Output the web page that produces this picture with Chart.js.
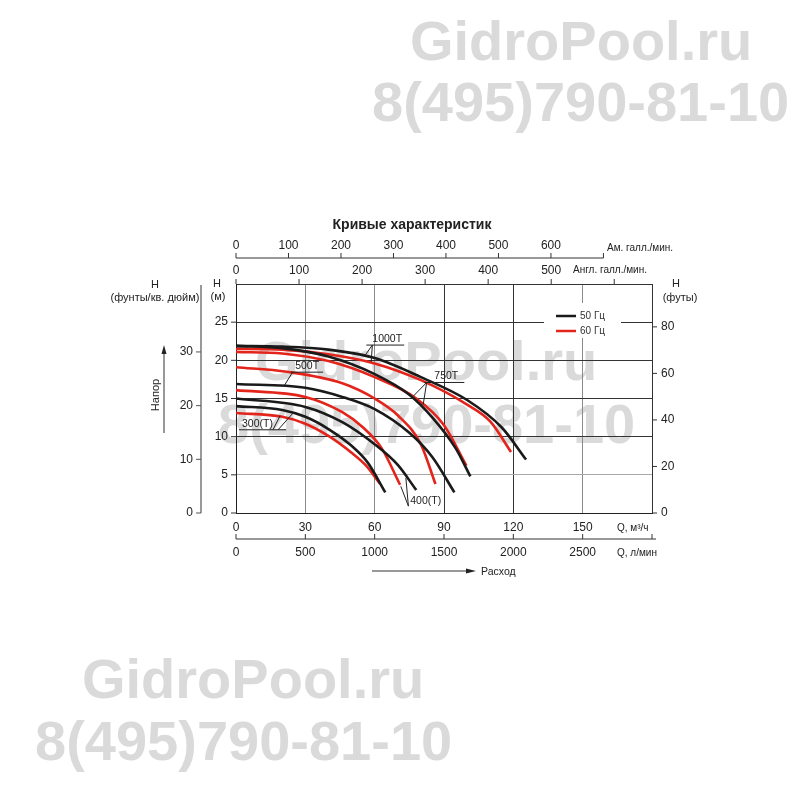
<!DOCTYPE html>
<html>
<head>
<meta charset="utf-8">
<script src="https://cdn.jsdelivr.net/npm/chart.js@4.4.1/dist/chart.umd.min.js"></script>
<style>
  body { margin: 0; background: #fff; }
  #wrap { position: relative; width: 800px; height: 800px; overflow: hidden; }
  .wm { position: absolute; font: bold 56px 'Liberation Sans', Arial, sans-serif; line-height: 56px; color: #dadada; white-space: nowrap; }
  canvas { position: absolute; left: 0; top: 0; }
</style>
</head>
<body>
<div id="wrap">
  <div class="wm" style="left:410px;top:13px">GidroPool.ru</div>
  <div class="wm" style="left:372px;top:74px">8(495)790-81-10</div>
  <div class="wm" style="left:255px;top:333px">GidroPool.ru</div>
  <div class="wm" style="left:218px;top:396px">8(495)790-81-10</div>
  <div class="wm" style="left:82px;top:651px">GidroPool.ru</div>
  <div class="wm" style="left:35px;top:713px">8(495)790-81-10</div>
  <canvas id="c" width="800" height="800"></canvas>
</div>
<script>
// axis ticks
const qTicks = [0, 30, 60, 90, 120, 150];            // m3/h (labelled)
const lpmTicks = [0, 500, 1000, 1500, 2000, 2500];    // l/min (labelled)
const usTicks = [0, 100, 200, 300, 400, 500, 600];    // US gpm (labelled)
const ukTicks = [0, 100, 200, 300, 400, 500];         // imp gpm (labelled)
const hmTicks = [0, 5, 10, 15, 20, 25];               // head, m
const ftTicks = [0, 20, 40, 60, 80];                  // head, ft
const psiTicks = [0, 10, 20, 30];                     // head, psi

// unit factors from m3/h and m
const M3H_LPM = 16.667, M3H_USGPM = 4.4029, M3H_UKGPM = 3.6662;
const M_FT = 3.2808, M_PSI = 1.4219;

// pump curves [Q m3/h, H m]; 50 Hz black, 60 Hz red
const p300_50  = [[0, 14.0], [20, 13.5], [30, 12.6], [40, 11.0], [50, 8.8], [57, 6.6], [64.6, 2.7]];
const p300_60  = [[0, 13.1], [20, 12.6], [30, 11.7], [40, 10.1], [50, 7.9], [56, 6.3], [62.4, 3.8]];
const p400_50  = [[0, 15.0], [30, 13.9], [46, 11.9], [60, 9.0], [70, 6.3], [78, 3.0]];
const p400_60  = [[0, 16.1], [30, 15.2], [46, 13.2], [55, 11.2], [63, 8.5], [71, 3.7]];
const p500_50  = [[0, 16.9], [30, 16.4], [46, 15.2], [60, 13.6], [75, 10.5], [85, 7.3], [94.5, 2.7]];
const p500_60  = [[0, 19.1], [22, 18.5], [46, 17.0], [60, 15.0], [70, 12.8], [80, 9.0], [86.3, 3.8]];
const p750_50  = [[0, 21.9], [20, 21.6], [40, 20.5], [60, 18.2], [75, 15.5], [85, 12.5], [95, 8.5], [101.4, 4.8]];
const p750_60  = [[0, 21.1], [20, 20.9], [40, 19.9], [60, 17.8], [78, 15.0], [90, 11.5], [99.7, 6.2]];
const p1000_50 = [[0, 21.9], [20, 21.8], [40, 21.4], [60, 20.3], [80, 17.8], [100, 14.8], [115, 11.2], [125.5, 7.0]];
const p1000_60 = [[0, 21.5], [20, 21.4], [40, 20.8], [60, 19.6], [80, 17.4], [100, 14.2], [110, 12.0], [119, 8.0]];

const BLACK = '#1a1a1a', RED = '#e3241b';
const FONT = "'Liberation Sans', Arial, sans-serif";

const curve = (pts, color) => ({
  data: pts.map(([q, h]) => ({ x: q, y: h })),
  borderColor: color, borderWidth: 2.6, pointRadius: 0,
  cubicInterpolationMode: 'monotone', fill: false,
});

// model tags: text pos, underline, leader lines (all in Q/H)
const tags = [
  { t: '1000T', at: [59.0, 22.8], ul: [56.4, 72.8, 22.0], lead: [[59.0, 22.0, 55.5, 20.5], [59.0, 22.0, 58.5, 19.8]] },
  { t: '750T', at: [85.8, 17.9], ul: [81.5, 98.8, 17.1], lead: [[82.5, 17.1, 76.7, 15.3], [82.5, 17.1, 81.0, 14.2]] },
  { t: '500T', at: [25.6, 19.2], ul: [23.8, 37.7, 18.45], lead: [[24.5, 18.45, 21.0, 16.75]] },
  { t: '300(T)', at: [2.6, 11.65], ul: [1.3, 21.7, 10.9], lead: [[16.0, 10.9, 19.1, 12.75], [18.2, 10.9, 24.7, 13.1]] },
  { t: '400(T)', at: [75.4, 1.6], ul: null, lead: [[74.6, 0.9, 71.3, 3.5], [74.6, 0.9, 73.5, 4.6]] },
];

function line(ctx, x1, y1, x2, y2) {
  ctx.beginPath(); ctx.moveTo(x1, y1); ctx.lineTo(x2, y2); ctx.stroke();
}
function text(ctx, s, px, py, align, size, bold) {
  ctx.font = (bold ? 'bold ' : '') + size + 'px ' + FONT;
  ctx.textAlign = align; ctx.textBaseline = 'middle';
  ctx.fillText(s, px, py);
}

const legendBox = {
  id: 'legendBox',
  beforeDatasetsDraw(chart) {
    const { ctx } = chart;
    ctx.save();
    ctx.fillStyle = '#fff';
    ctx.fillRect(544, 303, 77, 35);
    ctx.lineWidth = 2.5;
    ctx.strokeStyle = BLACK; line(ctx, 556, 316, 576, 316);
    ctx.strokeStyle = RED; line(ctx, 556, 331, 576, 331);
    ctx.fillStyle = '#333';
    text(ctx, '50 Гц', 580, 316, 'left', 10);
    text(ctx, '60 Гц', 580, 331, 'left', 10);
    ctx.restore();
  }
};

const decor = {
  id: 'decor',
  afterDraw(chart) {
    const { ctx, chartArea: a, scales: { x, y } } = chart;
    ctx.save();
    ctx.fillStyle = '#222';
    ctx.strokeStyle = '#333';
    ctx.lineWidth = 1;

    // title
    text(ctx, 'Кривые характеристик', 412, 225, 'center', 14, true);

    // left m axis
    hmTicks.forEach(v => {
      const py = y.getPixelForValue(v);
      line(ctx, a.left - 5, py, a.left, py);
      text(ctx, String(v), a.left - 8, py, 'right', 12);
    });
    text(ctx, 'H', 217, 284, 'center', 11);
    text(ctx, '(м)', 218, 297, 'center', 11);

    // left psi axis
    ctx.strokeStyle = '#999'; ctx.lineWidth = 2;
    line(ctx, 201, a.top + 1, 201, a.bottom);
    ctx.lineWidth = 1; ctx.strokeStyle = '#555';
    psiTicks.forEach(v => {
      const py = y.getPixelForValue(v / M_PSI);
      line(ctx, 196, py, 201, py);
      text(ctx, String(v), 193, py, 'right', 12);
    });
    text(ctx, 'H', 155, 285, 'center', 11);
    text(ctx, '(фунты/кв. дюйм)', 155, 298, 'center', 11);

    // Напор arrow
    ctx.strokeStyle = '#333';
    line(ctx, 164, 433, 164, 352);
    ctx.beginPath(); ctx.moveTo(164, 345); ctx.lineTo(161.5, 354); ctx.lineTo(166.5, 354); ctx.closePath(); ctx.fill();
    ctx.save(); ctx.translate(156, 395); ctx.rotate(-Math.PI / 2);
    text(ctx, 'Напор', 0, 0, 'center', 11);
    ctx.restore();

    // right ft axis
    ftTicks.forEach(v => {
      const py = y.getPixelForValue(v / M_FT);
      line(ctx, a.right, py, a.right + 5, py);
      text(ctx, String(v), a.right + 9, py, 'left', 12);
    });
    text(ctx, 'H', 676, 284, 'center', 11);
    text(ctx, '(футы)', 680, 298, 'center', 11);

    // bottom m3/h labels
    qTicks.forEach(v => text(ctx, String(v), x.getPixelForValue(v), 528, 'center', 12));
    text(ctx, 'Q, м³/ч', 617, 528, 'left', 10);

    // l/min axis
    line(ctx, a.left, 539, a.right + 4, 539);
    [...lpmTicks, 3000].forEach(v => {
      const px = x.getPixelForValue(v / M3H_LPM);
      line(ctx, px, 534, px, 539);
    });
    lpmTicks.forEach(v => text(ctx, String(v), x.getPixelForValue(v / M3H_LPM), 553, 'center', 12));
    text(ctx, 'Q, л/мин', 617, 553, 'left', 10);

    // Расход arrow
    line(ctx, 372, 571, 468, 571);
    ctx.beginPath(); ctx.moveTo(476, 571); ctx.lineTo(466, 568.5); ctx.lineTo(466, 573.5); ctx.closePath(); ctx.fill();
    text(ctx, 'Расход', 481, 572, 'left', 10.5);

    // top US gpm axis
    line(ctx, a.left, 258, x.getPixelForValue(700 / M3H_USGPM), 258);
    [...usTicks, 700].forEach(v => {
      const px = x.getPixelForValue(v / M3H_USGPM);
      line(ctx, px, 253, px, 258);
    });
    usTicks.forEach(v => text(ctx, String(v), x.getPixelForValue(v / M3H_USGPM), 246, 'center', 12));
    text(ctx, 'Ам. галл./мин.', 607, 248, 'left', 10);

    // top imperial gpm axis (plot top border)
    [...ukTicks, 600].forEach(v => {
      const px = x.getPixelForValue(v / M3H_UKGPM);
      line(ctx, px, a.top - 5, px, a.top);
    });
    ukTicks.forEach(v => text(ctx, String(v), x.getPixelForValue(v / M3H_UKGPM), 271, 'center', 12));
    text(ctx, 'Англ. галл./мин.', 573, 270, 'left', 10);

    // model tags
    ctx.strokeStyle = '#222';
    tags.forEach(tg => {
      text(ctx, tg.t, x.getPixelForValue(tg.at[0]), y.getPixelForValue(tg.at[1]), 'left', 10.5);
      if (tg.ul) line(ctx, x.getPixelForValue(tg.ul[0]), y.getPixelForValue(tg.ul[2]), x.getPixelForValue(tg.ul[1]), y.getPixelForValue(tg.ul[2]));
      tg.lead.forEach(l => line(ctx, x.getPixelForValue(l[0]), y.getPixelForValue(l[1]), x.getPixelForValue(l[2]), y.getPixelForValue(l[3])));
    });

    ctx.restore();
  }
};

new Chart(document.getElementById('c'), {
  type: 'line',
  data: {
    datasets: [
      curve(p300_50, BLACK), curve(p400_50, BLACK), curve(p500_50, BLACK), curve(p750_50, BLACK), curve(p1000_50, BLACK),
      curve(p300_60, RED), curve(p400_60, RED), curve(p500_60, RED), curve(p750_60, RED), curve(p1000_60, RED),
    ],
  },
  options: {
    responsive: false,
    animation: false,
    devicePixelRatio: 1,
    layout: { padding: { left: 236, top: 284, right: 148, bottom: 287 } },
    plugins: { legend: { display: false }, tooltip: { enabled: false } },
    scales: {
      x: {
        type: 'linear', min: 0, max: 180,
        ticks: { stepSize: 30, display: false },
        grid: { drawTicks: false, color: (c) => [30, 60, 150].includes(c.tick.value) ? '#8a8a8a' : '#333' },
        border: { color: '#222' },
      },
      y: {
        type: 'linear', min: 0, max: 30,
        ticks: { stepSize: 5, display: false },
        grid: { drawTicks: false, color: (c) => c.tick.value === 5 ? '#a8a8a8' : '#333' },
        border: { color: '#222' },
      },
    },
  },
  plugins: [legendBox, decor],
});
</script>
</body>
</html>
